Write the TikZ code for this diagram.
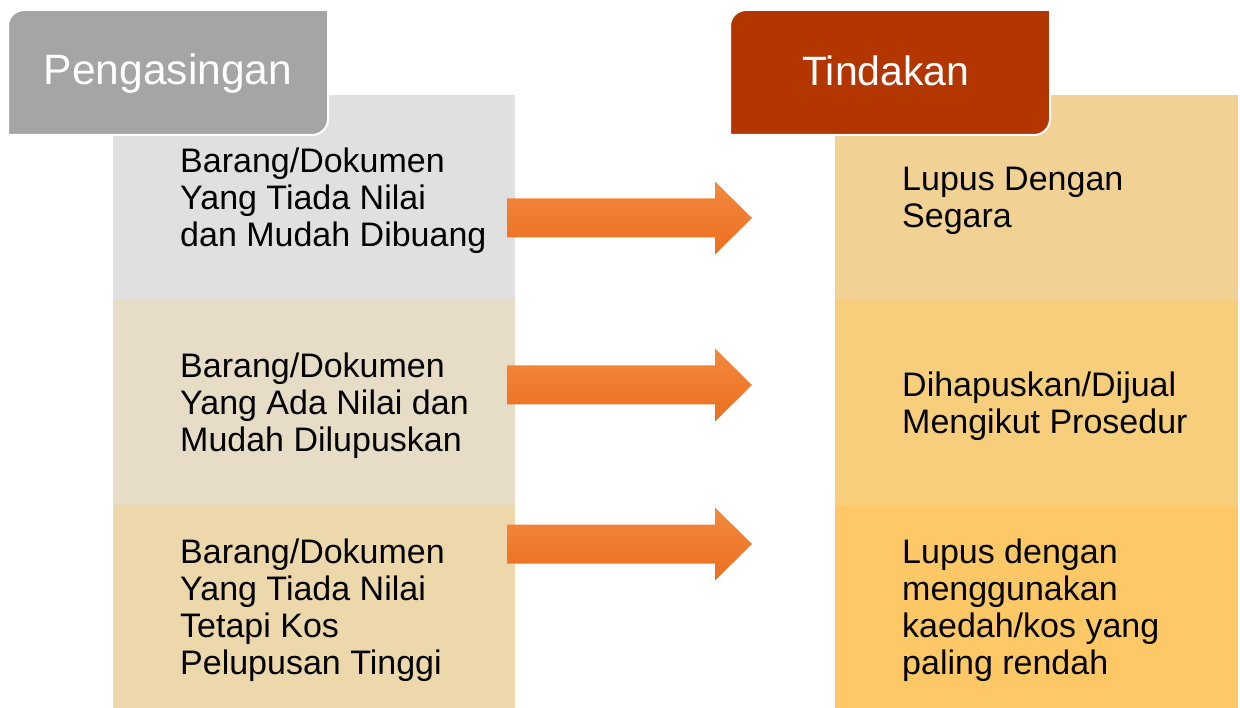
\documentclass[tikz,border=0pt]{standalone}
\usepackage{fontspec}
\setmainfont{Liberation Sans}
\definecolor{tabgrey}{HTML}{A5A5A5}
\definecolor{tabred}{HTML}{B33600}
\definecolor{lone}{HTML}{E0E0E0}
\definecolor{ltwo}{HTML}{E7DCC5}
\definecolor{lthree}{HTML}{EDD8AC}
\definecolor{rone}{HTML}{F2D294}
\definecolor{rtwo}{HTML}{F7CE7C}
\definecolor{rthree}{HTML}{FEC866}
\definecolor{arrtop}{HTML}{F3893F}
\definecolor{arrbot}{HTML}{EC6E1E}
\tikzset{
  box/.style={rectangle, draw=none, inner sep=0pt},
  txt/.style={anchor=west, inner sep=0pt, align=left, font=\fontsize{34}{37}\selectfont, text=black},
  head/.style={inner sep=0pt, text=white},
  tab/.style={draw=white, line width=2pt},
  bigarrow/.style={top color=arrtop, bottom color=arrbot, draw=none},
}
\begin{document}
\begin{tikzpicture}[x=1pt,y=1pt]
\useasboundingbox (0,0) rectangle (1240,-708);
% left column
\node[box, fill=lone, minimum width=402, minimum height=205] (l1) at (314,-197.5) {};
\node[box, fill=ltwo, minimum width=402, minimum height=205] (l2) at (314,-402.5) {};
\node[box, fill=lthree, minimum width=402, minimum height=203] (l3) at (314,-606.5) {};
% right column
\node[box, fill=rone, minimum width=403, minimum height=205] (r1) at (1036.5,-197.5) {};
\node[box, fill=rtwo, minimum width=403, minimum height=206] (r2) at (1036.5,-403) {};
\node[box, fill=rthree, minimum width=403, minimum height=202] (r3) at (1036.5,-607) {};
% tabs
\path[tab, fill=tabgrey] (8,-135) -- (8,-26) arc[start angle=180, end angle=90, radius=16]
  -- (328,-10) -- (328,-119) arc[start angle=0, end angle=-90, radius=16] -- cycle;
\node[head, font=\fontsize{42.5}{46}\selectfont] (h1) at (168,-74) {Pengasingan};
\path[tab, fill=tabred] (730,-135) -- (730,-26) arc[start angle=180, end angle=90, radius=16]
  -- (1050,-10) -- (1050,-119) arc[start angle=0, end angle=-90, radius=16] -- cycle;
\node[head, font=\fontsize{41}{45}\selectfont] (h2) at (886,-71) {Tindakan};
% texts
\node[txt] (t1) at (180,-201) {Barang/Dokumen\\Yang Tiada Nilai\\dan Mudah Dibuang};
\node[txt] (t2) at (180,-406) {Barang/Dokumen\\Yang Ada Nilai dan\\Mudah Dilupuskan};
\node[txt] (t3) at (180,-610) {Barang/Dokumen\\Yang Tiada Nilai\\Tetapi Kos\\Pelupusan Tinggi};
\node[txt] (u1) at (902,-201) {Lupus Dengan\\Segara};
\node[txt] (u2) at (902,-406) {Dihapuskan/Dijual\\Mengikut Prosedur};
\node[txt] (u3) at (902,-610) {Lupus dengan\\menggunakan\\kaedah/kos yang\\paling rendah};
% arrows
\foreach \c/\n in {218/a1, 385/a2, 544/a3}{
  \path[bigarrow] (507,-\c+19.5) -- (715,-\c+19.5) -- (715,-\c+36.5) -- (752,-\c)
    -- (715,-\c-36.5) -- (715,-\c-19.5) -- (507,-\c-19.5) -- cycle;
}
\end{tikzpicture}
\end{document}
